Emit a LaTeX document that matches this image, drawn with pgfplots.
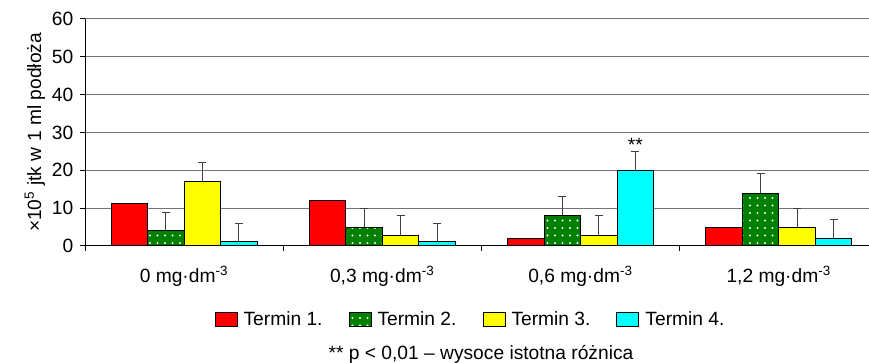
\documentclass[border=0pt]{standalone}
\usepackage{pgfplots}
\pgfplotsset{compat=1.18}
\usetikzlibrary{patterns.meta}
\usepackage{fontspec}
\setmainfont{Liberation Sans}
\definecolor{tred}{HTML}{FF0000}
\definecolor{tgreen}{HTML}{008000}
\definecolor{tyellow}{HTML}{FFFF00}
\definecolor{tcyan}{HTML}{00FFFF}
\begin{document}
\fontsize{9.6}{11}\selectfont
\begin{tikzpicture}[font=\fontsize{9.6}{11}\selectfont]
\path[use as bounding box] (0,0) rectangle (434.5pt,181.5pt);
\begin{axis}[
  at={(42.5pt,58.5pt)}, anchor=south west,
  scale only axis, width=392pt, height=113.5pt,
  xmin=-0.5, xmax=3.4545, ymin=0, ymax=60,
  ybar=0pt, bar width=0.184,
  axis x line=bottom, axis y line=left,
  axis line style={-, black, line width=0.5pt},
  ytick={0,10,...,60},
  /pgf/number format/assume math mode=true,
  ymajorgrids, grid style={black!55, line width=0.5pt},
  tick align=outside, major tick length=2.5pt,
  tick style={black, line width=0.5pt},
  xtick={-0.5,0.5,1.5,2.5}, xticklabels={},
  extra x ticks={0,1,2,3},
  extra x tick labels={{0 mg·dm\textsuperscript{-3}},{0,3 mg·dm\textsuperscript{-3}},{0,6 mg·dm\textsuperscript{-3}},{1,2 mg·dm\textsuperscript{-3}}},
  extra x tick style={major tick length=0pt, xticklabel style={anchor=base, yshift=-18.5pt}},
  ylabel={×10\textsuperscript{5} jtk w 1 ml podłoża},
  ylabel style={at={(axis description cs:-0.0638,0.5)}, anchor=center},
  legend columns=4,
  legend style={at={(0.493,-0.326)}, anchor=center, draw=none, fill=none,
    /tikz/every even column/.append style={column sep=11pt},
    /tikz/every odd column/.append style={column sep=1pt}},
  legend image code/.code={\draw[#1] (0pt,-3.5pt) rectangle (11pt,3.5pt);},
  error bars/error bar style={black!75, line width=0.5pt},
  error bars/error mark options={rotate=90, mark size=2pt, black!75, line width=0.5pt},
]
\addplot[fill=tred, draw=black, line width=0.5pt]
  coordinates {(0,11.1) (1,12.1) (2,2.1) (3,5.0)};
\addlegendentry{Termin 1.}
\addplot[fill=tgreen, draw=black, line width=0.5pt,
  postaction={pattern={Dots[distance=3.75pt,radius=0.55pt]}, pattern color=white},
  error bars/.cd, y dir=plus, y explicit]
  coordinates {(0,4.0) +- (0,4.9) (1,5.0) +- (0,4.9) (2,8.1) +- (0,4.9) (3,13.9) +- (0,5.3)};
\addlegendentry{Termin 2.}
\addplot[fill=tyellow, draw=black, line width=0.5pt,
  error bars/.cd, y dir=plus, y explicit]
  coordinates {(0,17.1) +- (0,5.0) (1,2.9) +- (0,5.2) (2,2.8) +- (0,5.3) (3,5.0) +- (0,5.0)};
\addlegendentry{Termin 3.}
\addplot[fill=tcyan, draw=black, line width=0.5pt,
  error bars/.cd, y dir=plus, y explicit]
  coordinates {(0,1.1) +- (0,4.9) (1,1.1) +- (0,4.9) (2,19.9) +- (0,5.0) (3,2.1) +- (0,5.0)};
\addlegendentry{Termin 4.}
\node[anchor=base] at (axis cs:2.276,25) {**};
\end{axis}
\node[anchor=base] at (240.5pt,1.5pt) {** p < 0,01 – wysoce istotna różnica};
\end{tikzpicture}
\end{document}
